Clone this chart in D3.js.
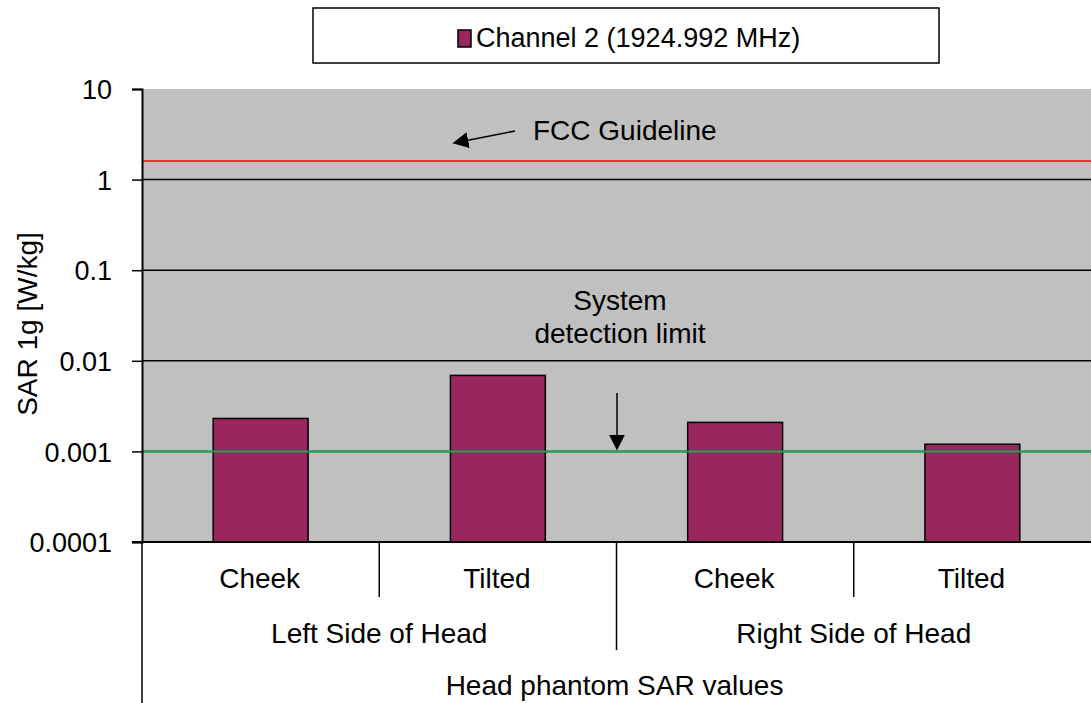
<!DOCTYPE html>
<html>
<head>
<meta charset="utf-8">
<script src="https://cdn.jsdelivr.net/npm/d3@7"></script>
<style>
  body { margin: 0; background: white; }
  text { font-family: "Liberation Sans", Arial, sans-serif; fill: black; }
</style>
</head>
<body>
<div id="graph"></div>
<script>
// data
const positions = ["Cheek", "Tilted", "Cheek", "Tilted"];
const sides = ["Left Side of Head", "Right Side of Head"];
const sarValues = [0.00231, 0.0069, 0.00209, 0.0012];
const yTicks = [10, 1, 0.1, 0.01, 0.001, 0.0001];
const fccLimit = 1.6;
const detectionLimit = 0.001;
const seriesName = "Channel 2 (1924.992 MHz)";

const width = 1091, height = 703;
const plotLeft = 142, plotRight = 1091, plotTop = 89, plotBottom = 542;

const svg = d3.select('#graph')
  .append("svg")
  .attr("width", width).attr("height", height);

const xScale = d3.scaleBand()
  .domain(d3.range(positions.length))
  .range([plotLeft, plotRight]);

const yScale = d3.scaleLog()
  .domain([0.0001, 10])
  .range([plotBottom, plotTop]);

// plot background
svg.append("rect")
  .attr("x", plotLeft).attr("y", plotTop)
  .attr("width", plotRight - plotLeft).attr("height", plotBottom - plotTop)
  .attr("fill", "#c0c0c0");

// gridlines
svg.append("g").selectAll("line").data(yTicks.slice(1, -1)).enter()
  .append("line")
  .attr("x1", plotLeft).attr("x2", plotRight)
  .attr("y1", d => yScale(d)).attr("y2", d => yScale(d))
  .attr("stroke", "black").attr("stroke-width", 1.5);

// bars
svg.append("g").selectAll("rect").data(sarValues).enter()
  .append("rect")
  .attr("x", (d, i) => xScale(i) + xScale.bandwidth() * 0.3)
  .attr("width", xScale.bandwidth() * 0.4)
  .attr("y", d => yScale(d))
  .attr("height", d => plotBottom - yScale(d))
  .attr("fill", "#99265e")
  .attr("stroke", "black").attr("stroke-width", 1.5);

// limit lines
svg.append("line")
  .attr("x1", plotLeft).attr("x2", plotRight)
  .attr("y1", yScale(fccLimit)).attr("y2", yScale(fccLimit))
  .attr("stroke", "#ff0000").attr("stroke-width", 1.5);
svg.append("line")
  .attr("x1", plotLeft).attr("x2", plotRight)
  .attr("y1", yScale(detectionLimit)).attr("y2", yScale(detectionLimit))
  .attr("stroke", "#1aa650").attr("stroke-width", 2);

// y axis
const yAxis = d3.axisLeft(yScale)
  .tickValues(yTicks)
  .tickFormat(d => String(d))
  .tickSize(10)
  .tickPadding(20);
const yg = svg.append("g").attr("transform", `translate(${plotLeft},0)`).call(yAxis);
yg.select(".domain").attr("stroke", "black").attr("stroke-width", 2);
yg.selectAll(".tick line").attr("stroke", "black").attr("stroke-width", 1.5);
yg.selectAll(".tick text").style("font-size", "27px").attr("fill", "black")
  .attr("dy", "0.36em");

svg.append("text")
  .attr("transform", `translate(27, 324) rotate(-90)`)
  .attr("dy", "0.36em")
  .style("text-anchor", "middle")
  .style("font-size", "28px")
  .text("SAR 1g [W/kg]");

// x axis, multi level
svg.append("line")
  .attr("x1", plotLeft - 10).attr("x2", plotRight)
  .attr("y1", plotBottom).attr("y2", plotBottom)
  .attr("stroke", "black").attr("stroke-width", 2);
svg.append("line")
  .attr("x1", plotLeft).attr("x2", plotLeft)
  .attr("y1", plotBottom).attr("y2", height)
  .attr("stroke", "black").attr("stroke-width", 1.5);

// separators between positions within a side
svg.append("g").selectAll("line").data([1, 3]).enter()
  .append("line")
  .attr("x1", d => xScale(d)).attr("x2", d => xScale(d))
  .attr("y1", plotBottom).attr("y2", 597)
  .attr("stroke", "black").attr("stroke-width", 1.5);
// separator between sides
svg.append("line")
  .attr("x1", xScale(2)).attr("x2", xScale(2))
  .attr("y1", plotBottom).attr("y2", 650)
  .attr("stroke", "black").attr("stroke-width", 1.5);

svg.append("g").selectAll("text").data(positions).enter()
  .append("text")
  .attr("x", (d, i) => xScale(i) + xScale.bandwidth() / 2 - 1)
  .attr("y", 588)
  .style("text-anchor", "middle").style("font-size", "28px")
  .text(d => d);

svg.append("g").selectAll("text").data(sides).enter()
  .append("text")
  .attr("x", (d, i) => xScale(i * 2) + xScale.bandwidth())
  .attr("y", 643)
  .style("text-anchor", "middle").style("font-size", "28px")
  .text(d => d);

svg.append("text")
  .attr("x", (plotLeft + plotRight) / 2 - 2)
  .attr("y", 695)
  .style("text-anchor", "middle").style("font-size", "28px")
  .text("Head phantom  SAR values");

// annotations
svg.append("defs").append("marker")
  .attr("id", "arrow")
  .attr("viewBox", "0 0 10 10")
  .attr("refX", 9).attr("refY", 5)
  .attr("markerWidth", 16).attr("markerHeight", 16)
  .attr("markerUnits", "userSpaceOnUse")
  .attr("orient", "auto")
  .append("path").attr("d", "M0,0 L10,5 L0,10 z").attr("fill", "black");

svg.append("text")
  .attr("x", 533).attr("y", 140)
  .style("font-size", "28px")
  .text("FCC Guideline");
svg.append("line")
  .attr("x1", 515).attr("y1", 131).attr("x2", 454).attr("y2", 143)
  .attr("stroke", "black").attr("stroke-width", 1.5)
  .attr("marker-end", "url(#arrow)");

svg.append("text")
  .attr("x", 620).attr("y", 310)
  .style("text-anchor", "middle").style("font-size", "28px")
  .text("System");
svg.append("text")
  .attr("x", 620).attr("y", 343)
  .style("text-anchor", "middle").style("font-size", "28px")
  .text("detection limit");
svg.append("line")
  .attr("x1", 617).attr("y1", 393).attr("x2", 617).attr("y2", 449)
  .attr("stroke", "black").attr("stroke-width", 1.5)
  .attr("marker-end", "url(#arrow)");

// legend
const legend = svg.append("g");
legend.append("rect")
  .attr("x", 313).attr("y", 8).attr("width", 626).attr("height", 55)
  .attr("fill", "white").attr("stroke", "black").attr("stroke-width", 1.5);
legend.append("rect")
  .attr("x", 458).attr("y", 30).attr("width", 13).attr("height", 17)
  .attr("fill", "#99265e").attr("stroke", "black").attr("stroke-width", 1.5);
legend.append("text")
  .attr("x", 476).attr("y", 47)
  .style("font-size", "27px")
  .text(seriesName);
</script>
</body>
</html>
